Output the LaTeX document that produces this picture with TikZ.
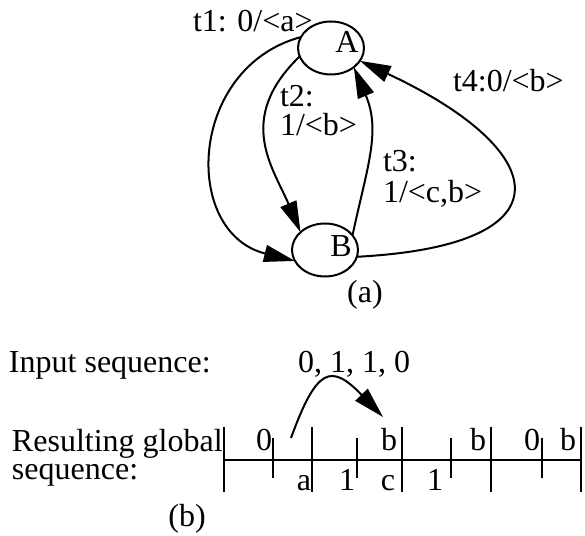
\documentclass[tikz,border=0pt]{standalone}
\usepackage{fontspec}
\setmainfont{Liberation Serif}
\usetikzlibrary{shapes.geometric,arrows.meta}
\begin{document}
\begin{tikzpicture}[x=1pt,y=1pt,
  every node/.style={font=\fontsize{32}{29}\selectfont, inner sep=0pt, outer sep=0pt},
  state/.style={draw, ellipse, line width=2pt, minimum width=66pt, minimum height=53pt},
  txt/.style={anchor=base west},
  ctxt/.style={anchor=base},
  edge/.style={line width=2pt, -{Triangle[length=31pt,width=17pt]}},
  tick/.style={line width=2pt}]
\useasboundingbox (0,0) rectangle (585,535);
% (a) state graph
\node[state] (A) at (331,487) {};
\node[state] (B) at (325,285) {};
\node[ctxt] (Al) at (347,482) {A};
\node[ctxt] (Bl) at (341,278) {B};
\draw[edge] (A.160) to[out=195,in=166,out distance=117pt,in distance=117pt] (B.200);
\draw[edge] (A.195) to[out=224,in=113,out distance=90pt,in distance=70pt] (B.144);
\draw[edge] (B.28) to[out=78,in=293,out distance=70pt,in distance=70pt] (A.320);
\draw[edge] (B.348) to[out=3,in=-25,out distance=218pt,in distance=210pt] (A.336);
\node[txt] (t1) at (193,503) {t1: 0/<a>};
\node[txt, align=left] (t2) at (280,399) {t2:\\1/<b>};
\node[txt, align=left] (t3) at (383,332) {t3:\\[2pt]1/<c,b>};
\node[txt] (t4) at (453,443) {t4:0/<b>};
\node[ctxt] (capa) at (365,232) {(a)};
% (b) sequences
\node[txt] (inp) at (9,162) {Input sequence:};
\node[txt] (seq) at (298,162) {0, 1, 1, 0};
\node[txt, align=left] (res) at (12,56) {Resulting global\\[-1pt]sequence:};
\node[ctxt] (capb) at (187,9) {(b)};
\draw[tick] (224,75) -- (581,75);
\foreach \x in {224,312,402,491,581} \draw[tick] (\x,108) -- (\x,43);
\foreach \x in {273,357,451,542} \draw[tick] (\x,97) -- (\x,57);
\foreach \x/\t in {264/0,389/b,478/b,532/0,568/b} \node[ctxt] at (\x,85) {\t};
\foreach \x/\t in {304/a,347/1,388/c,435/1} \node[ctxt] at (\x,45) {\t};
\coordinate (p0) at (291,97);
\coordinate (p1) at (383,118);
\draw[line width=2pt, -{Triangle[length=31pt,width=17pt]}] (p0) to[out=70,in=134,out distance=75pt,in distance=75pt] (p1);
\end{tikzpicture}
\end{document}
